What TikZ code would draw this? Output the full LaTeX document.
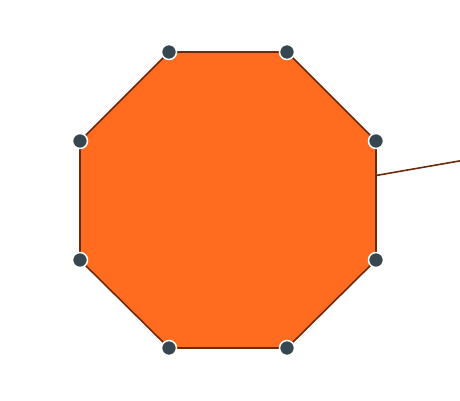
\documentclass[tikz,border=0pt]{standalone}
\definecolor{octfill}{HTML}{FF6B1F}
\definecolor{octline}{HTML}{6B2A08}
\definecolor{dotc}{HTML}{37474F}
\tikzset{
  vdot/.style={circle,fill=dotc,draw=white,line width=1.5pt,minimum size=15pt,inner sep=0pt},
  edge/.style={draw=octline,line width=1.6pt,line join=round}
}
\begin{document}
\begin{tikzpicture}[x=1pt,y=-1pt]
\useasboundingbox (0,0) rectangle (460,400);
\coordinate (v1) at (169,52);
\coordinate (v2) at (287,52);
\coordinate (v3) at (376,141);
\coordinate (v4) at (376,260);
\coordinate (v5) at (287,348);
\coordinate (v6) at (169,348);
\coordinate (v7) at (80,260);
\coordinate (v8) at (80,141);
\fill[octfill] (v1)--(v2)--(v3)--(v4)--(v5)--(v6)--(v7)--(v8)--cycle;
\draw[edge] (v1)--(v2)--(v3)--(v4)--(v5)--(v6)--(v7)--(v8)--cycle;
\coordinate (c0) at (376,175.5);
\coordinate (c1) at (462,160.5);
\draw[edge] (c0)--(c1);
\foreach \i in {1,...,8} \node[vdot] (d\i) at (v\i) {};
\end{tikzpicture}
\end{document}
